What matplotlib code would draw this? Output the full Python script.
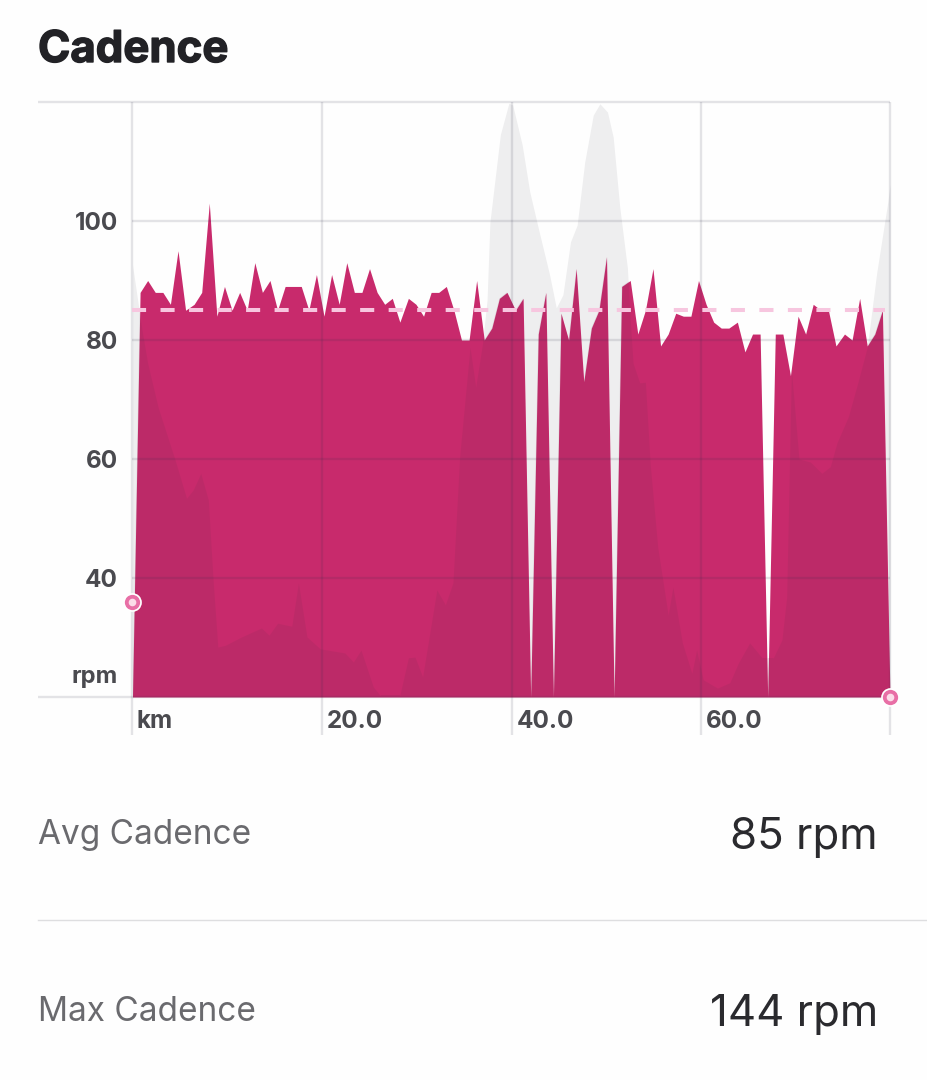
import matplotlib
matplotlib.use("Agg")
import matplotlib.pyplot as plt
import matplotlib.patheffects as pe

# cadence samples
cadence_km = [
    0.0, 0.8, 1.6, 2.4, 3.2, 4.0, 4.8, 5.6, 6.5, 7.3,
    8.1, 8.9, 9.7, 10.5, 11.3, 12.1, 12.9, 13.7, 14.5, 15.3,
    16.1, 16.9, 17.8, 18.6, 19.4, 20.2, 21.0, 21.8, 22.6, 23.4,
    24.2, 25.0, 25.8, 26.6, 27.4, 28.2, 29.1, 29.9, 30.7, 31.5,
    32.3, 33.1, 33.9, 34.7, 35.5, 36.3, 37.1, 37.9, 38.7, 39.5,
    40.4, 41.2, 42.0, 42.8, 43.6, 44.4, 45.2, 46.0, 46.8, 47.6,
    48.4, 49.2, 50.0, 50.8, 51.6, 52.5, 53.3, 54.1, 54.9, 55.7,
    56.5, 57.3, 58.1, 58.9, 59.7, 60.5, 61.3, 62.1, 62.9, 63.8,
    64.6, 65.4, 66.2, 67.0, 67.8, 68.6, 69.4, 70.2, 71.0, 71.8,
    72.6, 73.4, 74.2, 75.1, 75.9, 76.7, 77.5, 78.3, 79.1, 79.9,
]
cadence_rpm = [
    20, 88, 90, 88, 88, 86, 95, 85, 86, 88,
    103, 84, 89, 85, 88, 85, 93, 88, 90, 85,
    89, 89, 89, 85, 91, 84, 91, 86, 93, 88,
    88, 92, 88, 86, 87, 83, 87, 86, 84, 88,
    88, 89, 85, 80, 80, 90, 80, 82, 87, 88,
    85, 87, 20, 81, 88, 20, 84.5, 80, 92, 73,
    82, 85, 94, 20, 89, 90, 81, 85, 92, 79,
    81, 84.5, 84, 84, 90, 86, 83, 82, 82, 83,
    78, 81, 81, 20, 81, 81, 74, 84, 81, 86,
    85, 85, 79, 81, 80, 87, 79, 81, 85, 20,
]

# elevation profile behind the cadence, on the rpm scale
elevation_km = [
    0.0, 1.0, 1.6, 2.7, 4.5, 5.7, 6.4, 7.2, 8.0, 8.5, 9.0, 9.8, 11.5, 13.6,
    14.4, 15.3, 16.8, 17.5, 18.4, 19.8, 22.4, 23.3, 24.1, 25.4, 26.1, 28.2,
    29.1, 29.8, 30.6, 32.1, 33.0, 33.8, 34.5, 35.6, 36.2, 36.9, 37.4, 37.7,
    38.8, 39.7, 40.1, 41.1, 41.9, 42.8, 44.0, 44.7, 45.4, 46.2, 46.9, 47.7,
    48.6, 49.3, 50.1, 50.7, 51.4, 52.2, 52.5, 52.8, 53.5, 54.1, 54.6, 55.4,
    56.5, 57.0, 58.0, 59.0, 59.5, 60.2, 61.7, 63.0, 63.9, 65.1, 66.4, 67.6,
    68.5, 69.0, 69.5, 70.3, 71.5, 72.7, 73.6, 74.3, 75.5, 76.5, 77.5, 78.5,
    79.7, 79.9,
]
elevation_val = [
    92.6, 81.7, 76.1, 68.7, 59.8, 53.4, 54.8, 57.6, 53.1, 39.7, 28.4, 28.7, 30.1, 31.6,
    30.4, 32.4, 31.9, 39.2, 30.1, 28.1, 27.4, 25.9, 27.9, 21.7, 20.3, 20.3,
    26.6, 26.7, 23.4, 38.0, 35.5, 39.2, 60.3, 78.8, 72.1, 79.2, 86.7, 99.8,
    114.5, 119.8, 119.5, 112.8, 104.9, 98.8, 90.9, 85.4, 87.6, 96.5, 99.3, 109.9,
    117.8, 119.7, 118.3, 114.1, 102.2, 92.1, 83.4, 76.1, 72.8, 72.9, 59.3, 45.2,
    33.8, 38.5, 29.1, 24.0, 27.9, 22.9, 21.5, 22.4, 25.7, 29.1, 26.6, 26.6,
    29.6, 36.8, 75.0, 60.0, 59.5, 57.6, 58.7, 62.7, 67.1, 72.8, 78.8, 91.3,
    103.5, 106.1,
]

avg_rpm = 85
y_ticks = [40, 60, 80, 100]
x_ticks = [20, 40, 60]
x_tick_labels = ["20.0", "40.0", "60.0"]
marker_km = [0.0, 79.9]
marker_val = [36, 20]
stat_labels = ["Avg Cadence", "Max Cadence"]
stat_values = ["85 rpm", "144 rpm"]

W, H = 928, 1080
X0, X1, Y_TOP, Y_BOT = 132.5, 890, 102, 697
BG = "#fefefe"
PINK = "#c82a6c"
GRAY = "#eeeeef"
GRID = "#30304a"
TICK = "#4a4a4f"

plt.rcParams["font.family"] = ["Inter", "DejaVu Sans"]

fig = plt.figure(figsize=(W / 100, H / 100), dpi=100, facecolor=BG)
ax = fig.add_axes([X0 / W, 1 - Y_BOT / H, (X1 - X0) / W, (Y_BOT - Y_TOP) / H])
ax.set_xlim(0, 79.9)
ax.set_ylim(20, 120)
ax.axis("off")

ax.fill_between(elevation_km, 20, elevation_val, color=GRAY, lw=0, zorder=1)
cad = ax.fill_between(cadence_km, 20, cadence_rpm, color=PINK, lw=0, zorder=2)

# darker overlap where the elevation sits inside the cadence area
overlap = ax.fill_between(elevation_km, 20, elevation_val, color="#7a2a50", alpha=0.14, lw=0, zorder=3)
overlap.set_clip_path(cad.get_paths()[0], ax.transData)

# grid lines run past the plot area on purpose
grid = dict(color=GRID, alpha=0.13, lw=1.7, zorder=4, clip_on=False)
left_end = (38 - X0) / (X1 - X0) * 79.9
below = 20 - (735 - Y_BOT) / (Y_BOT - Y_TOP) * 100
ax.hlines(y_ticks, 0, 79.9, **grid)
ax.hlines([120, 20], left_end, 79.9, **grid)
ax.vlines([0] + x_ticks + [79.9], below, 120, **grid)

ax.plot([0, 79.4], [avg_rpm, avg_rpm], color="#f7c6df", lw=2.9,
        linestyle=(0, (3.5, 3.58)), dash_capstyle="butt", zorder=5)

for ms, col in [(13.5, "white"), (11, "#e86fa6"), (5.5, "#fbdde9")]:
    ax.plot(marker_km, marker_val, "o", ms=ms, color=col, mec="none", zorder=6, clip_on=False)


def px_text(x, y, s, **kw):
    return fig.text(x / W, 1 - y / H, s, va="baseline", **kw)


title = px_text(38, 62, "Cadence", fontsize=31.5, fontweight="bold", color="#222226")
title.set_path_effects([pe.withStroke(linewidth=1.0, foreground="#222226")])
for v in y_ticks:
    py = Y_BOT - (v - 20) / 100 * (Y_BOT - Y_TOP)
    px_text(118, py + 9, str(v), ha="right", fontsize=17.5, fontweight="bold", color=TICK)
px_text(118, 683, "rpm", ha="right", fontsize=17, fontweight="bold", color=TICK)
px_text(137, 728, "km", fontsize=17.5, fontweight="bold", color=TICK)
for v, lab in zip(x_ticks, x_tick_labels):
    px = X0 + v / 79.9 * (X1 - X0)
    px_text(px + 5, 728, lab, fontsize=17.5, fontweight="bold", color=TICK)

for y, lab in zip([844, 1021], stat_labels):
    px_text(38, y, lab, fontsize=24, color="#6a6a6e")
for y, val in zip([849, 1026], stat_values):
    px_text(878, y, val, ha="right", fontsize=31.5, color="#2a2a2e")

fig.add_artist(plt.Line2D([38 / W, 1], [1 - 920 / H] * 2, color="#dedee0", lw=1))

fig.savefig("out.png", dpi=100, facecolor=BG)
